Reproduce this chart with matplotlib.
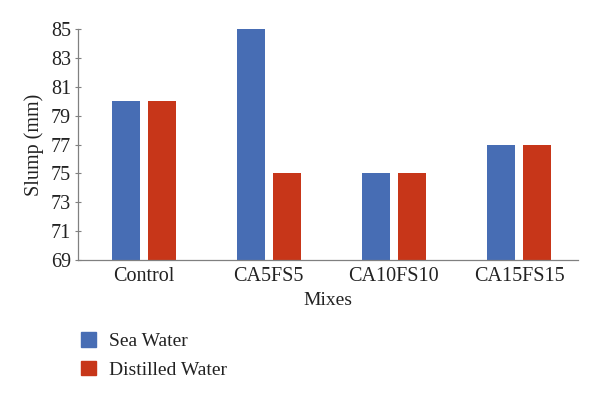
import matplotlib
matplotlib.use("Agg")
import matplotlib.pyplot as plt
import numpy as np
from matplotlib.patches import Patch

categories = ["Control", "CA5FS5", "CA10FS10", "CA15FS15"]
sea_water = [80, 85, 75, 77]
distilled_water = [80, 75, 75, 77]
yticks = [69, 71, 73, 75, 77, 79, 81, 83, 85]

plt.rcParams['font.family'] = ['Liberation Serif', 'DejaVu Serif']

fig = plt.figure(figsize=(6, 3.96), dpi=100)
ax = fig.add_axes([0.13, 0.343, 0.833, 0.584])

x = np.arange(len(categories))
w = 0.224
off = 0.144
blue = "#476db4"
red = "#c73619"
ax.bar(x - off, sea_water, w, bottom=0, color=blue)
ax.bar(x + off, distilled_water, w, bottom=0, color=red)

ax.set_ylim(69, 85)
ax.set_xlim(-0.525, 3.47)
ax.set_yticks(yticks)
ax.set_xticks(x)
ax.set_xticklabels(categories)
for s in ["top", "right"]:
    ax.spines[s].set_visible(False)
for s in ["left", "bottom"]:
    ax.spines[s].set_color("#808080")
    ax.spines[s].set_linewidth(0.9)
ax.tick_params(axis="y", length=4, color="#808080", labelsize=14.5, direction="inout", pad=3)
ax.tick_params(axis="y", labelcolor="#222222")
ax.tick_params(axis="x", length=0, labelsize=14.5, labelcolor="#222222", pad=5)
ax.set_ylabel("Slump (mm)", fontsize=14.5, color="#222222", labelpad=5)
ax.set_xlabel("Mixes", fontsize=14, color="#222222", labelpad=4)

handles = [Patch(color=blue, label="Sea Water"), Patch(color=red, label="Distilled Water")]
fig.legend(handles=handles, loc="upper left", bbox_to_anchor=(0.122, 0.18), frameon=False,
           fontsize=14, handlelength=0.75, handleheight=0.75, handletextpad=0.7, labelspacing=0.55,
           labelcolor="#222222", borderaxespad=0)

fig.savefig("out.png", dpi=100)
